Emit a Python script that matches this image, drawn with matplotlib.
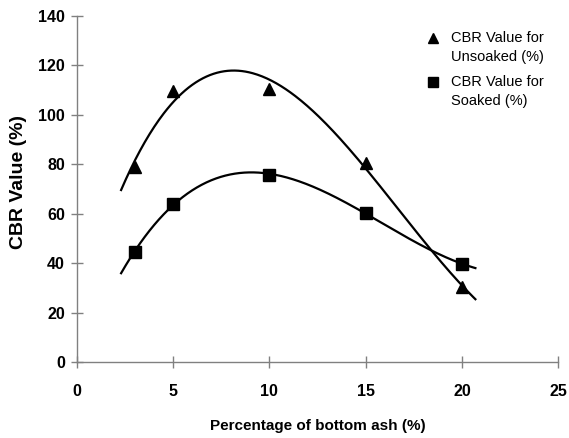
import numpy as np
import matplotlib
matplotlib.use("Agg")
import matplotlib.pyplot as plt

x_ash = [3, 5, 10, 15, 20]
cbr_unsoaked = [79, 109.5, 110.5, 80.5, 30.5]
cbr_soaked = [44.5, 64, 75.7, 60.3, 39.7]
x_ticks = [0, 5, 10, 15, 20, 25]
y_ticks = [0, 20, 40, 60, 80, 100, 120, 140]
legend_lines = [['CBR Value for', 'Unsoaked (%)'], ['CBR Value for', 'Soaked (%)']]

plt.rcParams['font.family'] = ['Liberation Sans', 'DejaVu Sans']

fig = plt.figure(figsize=(5.69, 4.38), dpi=100)
ax = fig.add_axes([0.135, 0.1735, 0.846, 0.79])

xs = np.linspace(2.3, 20.7, 300)
pu = np.polyfit(x_ash, cbr_unsoaked, 3)
ps = np.polyfit(x_ash, cbr_soaked, 3)
ax.plot(xs, np.polyval(pu, xs), color='black', lw=1.6)
ax.plot(xs, np.polyval(ps, xs), color='black', lw=1.6)
ax.plot(x_ash, cbr_unsoaked, linestyle='none', marker='^', color='black', markersize=8)
ax.plot(x_ash, cbr_soaked, linestyle='none', marker='s', color='black', markersize=8)

ax.set_xlim(0, 25)
ax.set_ylim(0, 140)
ax.set_xticks(x_ticks)
ax.set_yticks(y_ticks)
for s in ['top', 'right']:
    ax.spines[s].set_visible(False)
for s in ['left', 'bottom']:
    ax.spines[s].set_color('#808080')
    ax.spines[s].set_linewidth(1.0)
ax.tick_params(direction='inout', length=9, width=1.0, color='#808080',
               labelsize=11.5, pad=4)
for lab in ax.get_xticklabels() + ax.get_yticklabels():
    lab.set_fontweight('bold')
ax.tick_params(axis='x', pad=11)

ax.set_xlabel('Percentage of bottom ash (%)', fontsize=11, fontweight='bold')
ax.xaxis.set_label_coords(0.5, -0.165)
ax.set_ylabel('CBR Value (%)', fontsize=14, fontweight='bold')
ax.yaxis.set_label_coords(-0.104, 0.519)

# legend (Excel-style: marker aligned with first text line)
markers = ['^', 's']
key_y = [0.913, 0.813]
for m, y0, lines in zip(markers, key_y, legend_lines):
    fig.add_artist(plt.Line2D([0.761], [y0], transform=fig.transFigure,
                              linestyle='none', marker=m, color='black', markersize=7))
    fig.text(0.793, y0, lines[0], fontsize=10.5, va='center', ha='left')
    fig.text(0.793, y0 - 0.0435, lines[1], fontsize=10.5, va='center', ha='left')

fig.savefig('out.png', dpi=100)
